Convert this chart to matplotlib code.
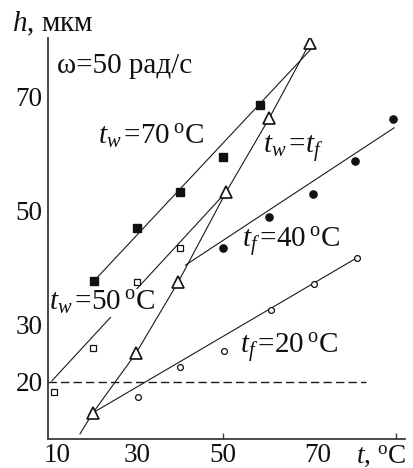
import matplotlib
matplotlib.use("Agg")
import matplotlib.pyplot as plt

plt.rcParams["font.family"] = ["Liberation Serif", "DejaVu Serif"]
plt.rcParams["mathtext.fontset"] = "custom"
plt.rcParams["mathtext.rm"] = "Liberation Serif"
plt.rcParams["mathtext.it"] = "Liberation Serif:italic"

# Film thickness h (мкм) versus temperature t (°C), ω = 50 рад/с

# t_w = 70 °C (filled squares)
tw70_t = [20, 30, 40, 50, 58.5]
tw70_h = [37.7, 47.0, 53.3, 59.5, 68.6]
tw70_line_t = [20, 70.5]
tw70_line_h = [37.7, 78.6]

# t_w = 50 °C (open squares)
tw50_t = [10.8, 19.8, 30, 40]
tw50_h = [18.2, 26.0, 37.5, 43.5]
tw50_line_t = [10.3, 50.6]
tw50_line_h = [20.2, 53.3]

# t_w = t_f (open triangles)
twtf_t = [19.8, 29.8, 39.5, 50.6, 60.6, 70]
twtf_h = [14.6, 25.1, 37.5, 53.3, 66.3, 79.5]
twtf_tail_t = 16.8
twtf_tail_h = 10.9

# t_f = 40 °C (filled circles)
tf40_t = [50, 60.6, 70.7, 80.5, 89.3]
tf40_h = [43.5, 48.9, 53.0, 58.8, 66.1]
tf40_line_t = [41.2, 89.5]
tf40_line_h = [40.5, 64.6]

# t_f = 20 °C (open circles)
tf20_t = [30.2, 40, 50.1, 61, 71, 80.9]
tf20_h = [17.4, 22.6, 25.4, 32.6, 37.2, 41.8]
tf20_line_t = [19.8, 80.9]
tf20_line_h = [14.6, 41.8]

# reference level
ref_h = 20
ref_t = [9.4, 83]

x_tick_marks = [30, 50, 90]
x_label_pos = [11.4, 30, 49.8, 71.9]
x_labels = ["10", "30", "50", "70"]
y_ticks = [20, 30, 50, 70]
y_labels = ["20", "30", "50", "70"]

W, H = 414, 468
fig = plt.figure(figsize=(W / 100, H / 100), dpi=100)
ax = fig.add_axes([48 / W, 1 - 439 / H, (405 - 48) / W, (439 - 38) / H])
ax.set_xlim(9.4, 92.0)
ax.set_ylim(10.0, 80.35)

for s in ["top", "right"]:
    ax.spines[s].set_visible(False)
for s in ["left", "bottom"]:
    ax.spines[s].set_color("#3a3a3a")
    ax.spines[s].set_linewidth(1.3)

lc = "#1a1a1a"
lw = 0.8

# fitted lines
ax.plot(tw70_line_t, tw70_line_h, color=lc, lw=lw, zorder=3)
ax.plot(tw50_line_t, tw50_line_h, color=lc, lw=lw, zorder=1)
ax.plot([twtf_tail_t] + twtf_t, [twtf_tail_h] + twtf_h, color=lc, lw=lw, zorder=3)
ax.plot(tf40_line_t, tf40_line_h, color=lc, lw=lw, zorder=3)
ax.plot(tf20_line_t, tf20_line_h, color=lc, lw=lw, zorder=3)
ax.plot(ref_t, [ref_h, ref_h], color=lc, lw=1.0, dashes=(6, 3), zorder=3)

# measured points
ax.plot(tw70_t, tw70_h, ls="none", marker="s", ms=5.2, mfc="#111", mec="#111", zorder=4)
ax.plot(tw50_t, tw50_h, ls="none", marker="s", ms=4.6, mfc="white", mec="#111", mew=0.9, zorder=4)
ax.plot(twtf_t, twtf_h, ls="none", marker="^", ms=8, mfc="white", mec="#111", mew=1.2, zorder=4)
ax.plot(tf40_t, tf40_h, ls="none", marker="o", ms=5.2, mfc="#111", mec="#111", zorder=4)
ax.plot(tf20_t, tf20_h, ls="none", marker="o", ms=4.2, mfc="white", mec="#111", mew=0.9, zorder=4)

# ticks
ax.set_xticks(x_tick_marks, minor=True)
ax.tick_params(axis="x", which="minor", direction="in", length=4, width=1, color="#3a3a3a")
ax.set_xticks(x_label_pos, labels=x_labels)
ax.tick_params(axis="x", which="major", length=0, pad=3, labelsize=19.5)
ax.set_yticks(y_ticks, labels=y_labels)
ax.tick_params(axis="y", length=0, pad=4, labelsize=19.5)
for lab in ax.get_xticklabels() + ax.get_yticklabels():
    lab.set_color("#111")

fs = 21
tc = "#111"
deg = "$\\,^{\\mathrm{o}}$C"
fig.text(12 / W, 1 - 24 / H, "$h$, мкм", fontsize=fs, color=tc, ha="left", va="center")
ax.text(11.5, 75.4, "ω=50 рад/с", fontsize=fs, color=tc, ha="left", va="center")
ax.text(21.0, 61.6, "$t_w\\,$=70" + deg, fontsize=fs, color=tc, ha="left", va="baseline", zorder=5)
ax.text(59.2, 60.2, "$t_w\\,$=$t_f$", fontsize=fs, color=tc, ha="left", va="baseline", zorder=5)
ax.text(54.3, 43.5, "$t_f\\,$=40" + deg, fontsize=fs, color=tc, ha="left", va="baseline", zorder=5)
ax.text(9.6, 32.5, "$t_w\\,$=50" + deg, fontsize=fs, color=tc, ha="left", va="baseline", zorder=2,
        bbox=dict(boxstyle="square,pad=0.0", fc="white", ec="none"))
ax.text(53.8, 24.9, "$t_f\\,$=20" + deg, fontsize=fs, color=tc, ha="left", va="baseline", zorder=5)
ax.text(80.6, -0.06, "$t$, $^{\\mathrm{o}}$C", fontsize=19.5, color=tc, ha="left", va="baseline",
        transform=ax.get_xaxis_transform())

fig.savefig("out.png", dpi=100)
